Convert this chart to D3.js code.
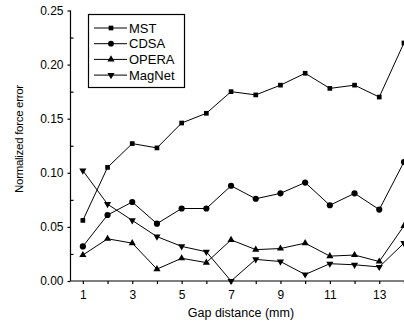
<!DOCTYPE html>
<html>
<meta charset="UTF-8">
<script src="https://d3js.org/d3.v7.min.js"></script>
<style>
  body { margin: 0; background: #fff; }
  text { font-family: "Liberation Sans", Arial, sans-serif; fill: #000; }
</style>
<body>
<div id="chart"></div>
<script>

  var gaps = [1, 2, 3, 4, 5, 6, 7, 8, 9, 10, 11, 12, 13, 14];
  var mst = [0.056, 0.105, 0.127, 0.123, 0.146, 0.155, 0.175, 0.172, 0.181, 0.192, 0.178, 0.181, 0.170, 0.220];
  var cdsa = [0.032, 0.061, 0.073, 0.053, 0.067, 0.067, 0.088, 0.076, 0.081, 0.091, 0.070, 0.081, 0.066, 0.110];
  var opera = [0.024, 0.039, 0.035, 0.011, 0.021, 0.017, 0.038, 0.029, 0.030, 0.035, 0.023, 0.024, 0.018, 0.051];
  var magnet = [0.102, 0.071, 0.056, 0.041, 0.032, 0.027, 0.000, 0.020, 0.018, 0.006, 0.016, 0.015, 0.013, 0.035];
  var xTicks = [1, 3, 5, 7, 9, 11, 13];
  var yTicks = [0.00, 0.05, 0.10, 0.15, 0.20, 0.25];

  var series = [
    { name: "MST", values: mst, symbol: d3.symbolSquare },
    { name: "CDSA", values: cdsa, symbol: d3.symbolCircle },
    { name: "OPERA", values: opera, symbol: d3.symbolTriangle },
    { name: "MagNet", values: magnet, symbol: "down" }
  ];

  var width = 404, height = 327;
  var mLeft = 70.5, mTop = 10.5, mBottom = 281;

  var svg = d3.select("#chart")
    .append("svg")
    .attr("width", width)
    .attr("height", height);

  var x = d3.scaleLinear()
    .domain([0.5, 14.5])
    .range([mLeft, mLeft + 14 * 24.7]);

  var y = d3.scaleLinear()
    .domain([0, 0.25])
    .range([mBottom, mTop]);

  // minor ticks
  svg.append("g")
    .attr("transform", "translate(0," + mBottom + ")")
    .call(d3.axisBottom(x).tickValues([2, 4, 6, 8, 10, 12, 14]).tickSize(3).tickFormat(""))
    .call(g => g.select(".domain").remove());
  svg.append("g")
    .attr("transform", "translate(" + mLeft + ",0)")
    .call(d3.axisRight(y).tickValues([0.025, 0.075, 0.125, 0.175, 0.225]).tickSize(3).tickFormat(""))
    .call(g => g.select(".domain").remove());

  // main axes
  var xAxis = svg.append("g")
    .attr("transform", "translate(0," + mBottom + ")")
    .call(d3.axisBottom(x).tickValues(xTicks).tickSize(3).tickPadding(6).tickSizeOuter(0));
  xAxis.select(".domain").attr("d", "M" + mLeft + ",0H" + width);

  var yAxis = svg.append("g")
    .attr("transform", "translate(" + mLeft + ",0)")
    .call(d3.axisLeft(y).tickValues(yTicks).tickFormat(d3.format(".2f")).tickSize(3).tickPadding(4).tickSizeOuter(0));
  yAxis.select(".domain").attr("d", "M0," + mTop + "V" + mBottom);

  svg.selectAll(".tick text").attr("font-size", 12).attr("font-family", "Liberation Sans, Arial, sans-serif");
  svg.selectAll(".domain, .tick line").attr("stroke", "#000").attr("stroke-width", 1.2);

  // axis titles
  svg.append("text")
    .attr("x", x(7.4))
    .attr("y", 317)
    .attr("text-anchor", "middle")
    .attr("font-size", 12.5)
    .text("Gap distance (mm)");

  svg.append("text")
    .attr("transform", "translate(23,139) rotate(-90)")
    .attr("text-anchor", "middle")
    .attr("font-size", 11.5)
    .attr("letter-spacing", -0.3)
    .text("Normalized force error");

  function symbolPath(s, size) {
    if (s === "down") {
      return d3.symbol().type(d3.symbolTriangle).size(size)();
    }
    return d3.symbol().type(s).size(size)();
  }

  var line = d3.line()
    .x(function (d, i) { return x(gaps[i]); })
    .y(function (d) { return y(d); });

  series.forEach(function (s) {
    svg.append("path")
      .datum(s.values)
      .attr("fill", "none")
      .attr("stroke", "#000")
      .attr("stroke-width", 1)
      .attr("d", line);

    svg.append("g").selectAll("path")
      .data(s.values)
      .join("path")
      .attr("d", symbolPath(s.symbol, s.symbol === d3.symbolCircle ? 30 : 22))
      .attr("transform", function (d, i) {
        return "translate(" + x(gaps[i]) + "," + y(d) + ")" + (s.symbol === "down" ? " rotate(180)" : "");
      })
      .attr("fill", "#000");
  });

  // legend
  var legend = svg.append("g");
  legend.append("rect")
    .attr("x", 88.5).attr("y", 14.5)
    .attr("width", 96).attr("height", 73)
    .attr("fill", "#fff")
    .attr("stroke", "#000")
    .attr("stroke-width", 1.2);

  series.forEach(function (s, i) {
    var ly = 28 + i * 15.7;
    legend.append("line")
      .attr("x1", 94).attr("x2", 127)
      .attr("y1", ly).attr("y2", ly)
      .attr("stroke", "#000");
    legend.append("path")
      .attr("d", symbolPath(s.symbol, s.symbol === d3.symbolCircle ? 26 : 22))
      .attr("transform", "translate(111," + ly + ")" + (s.symbol === "down" ? " rotate(180)" : ""))
      .attr("fill", "#000");
    legend.append("text")
      .attr("x", 129)
      .attr("y", ly + 4.5)
      .attr("font-size", 13)
      .text(s.name);
  });

</script>
</body>
</html>
